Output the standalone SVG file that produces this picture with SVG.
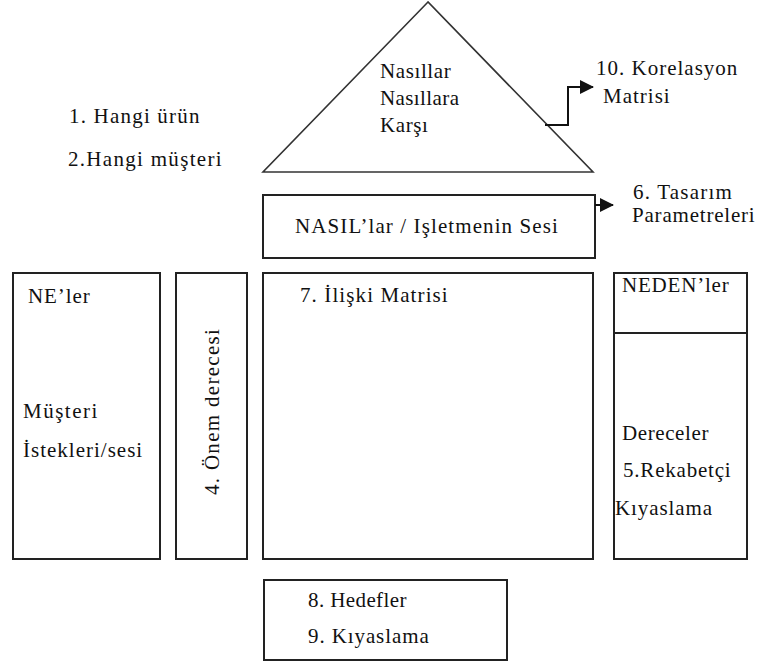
<svg xmlns="http://www.w3.org/2000/svg" width="760" height="663" viewBox="0 0 760 663">
  <defs>
    <marker id="arrow" viewBox="0 0 14 14" refX="13" refY="7" markerWidth="14" markerHeight="14" markerUnits="userSpaceOnUse" orient="auto">
      <path d="M0,0 L14,7 L0,14 Z" fill="#111"/>
    </marker>
  </defs>
  <rect width="760" height="663" fill="#fff"/>

  <!-- product / customer notes -->
  <g id="header-notes" fill="#111">
    <text style="font-family:'Liberation Serif',serif;font-size:21px;letter-spacing:1.2px" x="69" y="123">1. Hangi ürün</text>
    <text style="font-family:'Liberation Serif',serif;font-size:21px;letter-spacing:1.3px" x="68" y="166">2.Hangi müşteri</text>
  </g>

  <!-- roof: correlation matrix -->
  <g id="roof" fill="#111">
    <path d="M428,2 L263,172 L593,172 Z" fill="#fff" stroke="#333" stroke-width="1.6"/>
    <text style="font-family:'Liberation Serif',serif;font-size:21px;letter-spacing:0.6px" x="380" y="78">Nasıllar</text>
    <text style="font-family:'Liberation Serif',serif;font-size:21px;letter-spacing:0.4px" x="380" y="105">Nasıllara</text>
    <text style="font-family:'Liberation Serif',serif;font-size:21px;letter-spacing:0.6px" x="380" y="132">Karşı</text>
  </g>

  <g id="correlation-label" fill="#111">
    <text style="font-family:'Liberation Serif',serif;font-size:21px;letter-spacing:1px" x="596" y="75">10. Korelasyon</text>
    <text style="font-family:'Liberation Serif',serif;font-size:21px;letter-spacing:1px" x="603" y="103">Matrisi</text>
  </g>

  <!-- hows -->
  <g id="hows" fill="#111">
    <rect x="263" y="195" width="332" height="63" fill="#fff" stroke="#222" stroke-width="2"/>
    <text style="font-family:'Liberation Serif',serif;font-size:21px;letter-spacing:1.1px" x="295" y="233">NASIL’lar / Işletmenin Sesi</text>
  </g>

  <g id="design-label" fill="#111">
    <text style="font-family:'Liberation Serif',serif;font-size:21px;letter-spacing:1.2px" x="633" y="199">6. Tasarım</text>
    <text style="font-family:'Liberation Serif',serif;font-size:21px;letter-spacing:0.8px" x="632" y="222">Parametreleri</text>
  </g>

  <!-- whats -->
  <g id="whats" fill="#111">
    <rect x="13" y="273" width="147" height="286" fill="#fff" stroke="#222" stroke-width="2"/>
    <text style="font-family:'Liberation Serif',serif;font-size:21px;letter-spacing:0.9px" x="28" y="303">NE’ler</text>
    <text style="font-family:'Liberation Serif',serif;font-size:21px;letter-spacing:1.5px" x="23" y="418">Müşteri</text>
    <text style="font-family:'Liberation Serif',serif;font-size:21px;letter-spacing:1px" x="23" y="457">İstekleri/sesi</text>
  </g>

  <!-- importance -->
  <g id="importance" fill="#111">
    <rect x="176" y="273" width="71" height="286" fill="#fff" stroke="#222" stroke-width="2"/>
    <text style="font-family:'Liberation Serif',serif;font-size:21px;letter-spacing:1.3px" transform="translate(219,495) rotate(-90)" x="0" y="0">4. Önem derecesi</text>
  </g>

  <!-- relationship matrix -->
  <g id="relationship-matrix" fill="#111">
    <rect x="263" y="273" width="330" height="286" fill="#fff" stroke="#222" stroke-width="2"/>
    <text style="font-family:'Liberation Serif',serif;font-size:21px;letter-spacing:1.1px" x="300" y="302">7. İlişki Matrisi</text>
  </g>

  <!-- whys / competitive benchmarking -->
  <g id="whys" fill="#111">
    <rect x="614" y="273" width="133" height="286" fill="#fff" stroke="#222" stroke-width="2"/>
    <line x1="614" y1="333" x2="747" y2="333" stroke="#222" stroke-width="2"/>
    <text style="font-family:'Liberation Serif',serif;font-size:21px;letter-spacing:0.8px" x="622" y="292">NEDEN’ler</text>
    <text style="font-family:'Liberation Serif',serif;font-size:21px;letter-spacing:0.6px" x="622" y="440">Dereceler</text>
    <text style="font-family:'Liberation Serif',serif;font-size:21px;letter-spacing:0.8px" x="623" y="477">5.Rekabetçi</text>
    <text style="font-family:'Liberation Serif',serif;font-size:21px;letter-spacing:0.9px" x="615" y="515">Kıyaslama</text>
  </g>

  <!-- targets -->
  <g id="targets" fill="#111">
    <rect x="264" y="580" width="243" height="80" fill="#fff" stroke="#222" stroke-width="2"/>
    <text style="font-family:'Liberation Serif',serif;font-size:21px;letter-spacing:0.4px" x="308" y="607">8. Hedefler</text>
    <text style="font-family:'Liberation Serif',serif;font-size:21px;letter-spacing:0.9px" x="308" y="643">9. Kıyaslama</text>
  </g>

  <!-- connectors -->
  <g id="connectors" fill="none" stroke="#111" stroke-width="2">
    <path d="M545,125 H568 V87 H593" marker-end="url(#arrow)"/>
    <path d="M595,205 H613" marker-end="url(#arrow)"/>
  </g>
</svg>
